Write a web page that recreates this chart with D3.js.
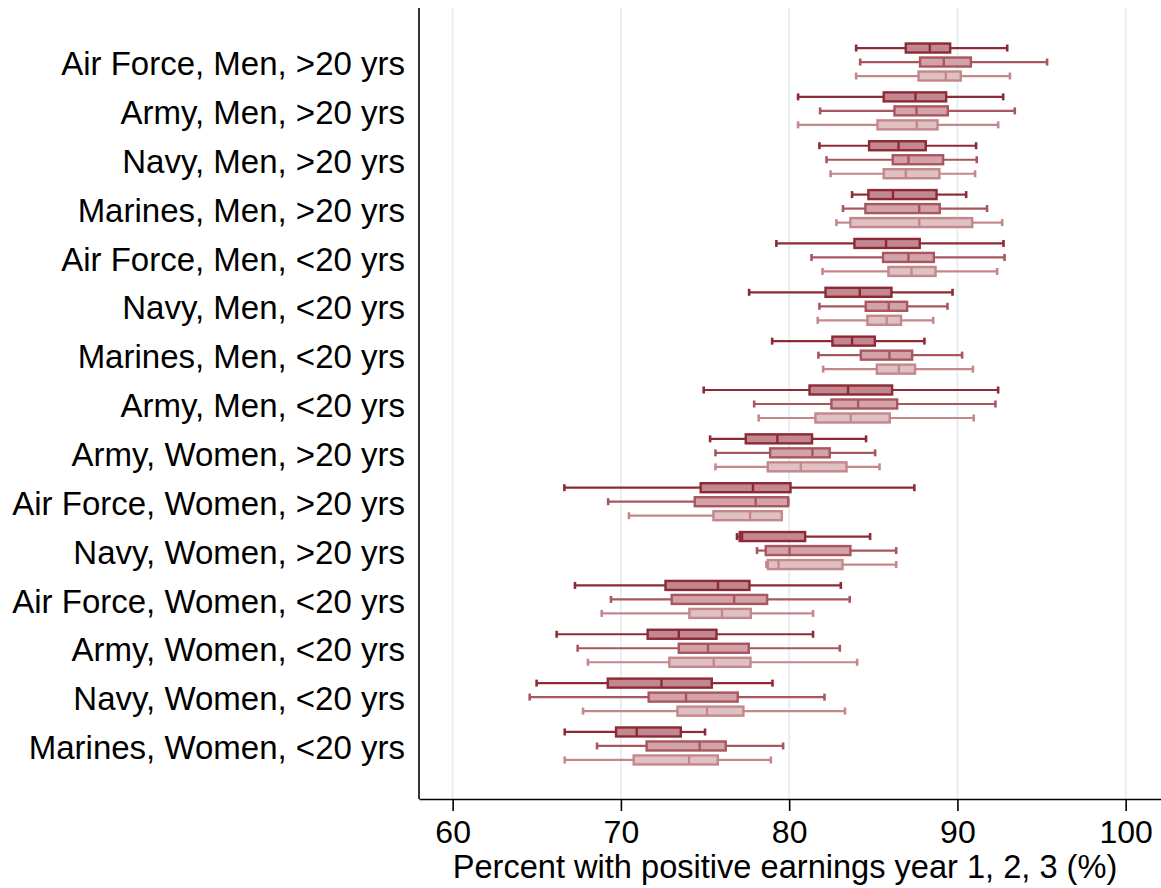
<!DOCTYPE html>
<html>
<head>
<meta charset="utf-8">
<script src="https://cdn.jsdelivr.net/npm/d3@7"></script>
<style>
  body { margin: 0; background: #fff; }
  text { font-family: "Liberation Sans", Arial, Helvetica, sans-serif; fill: #000; }
</style>
</head>
<body>
<div id="chart"></div>
<script>
// Categories (top to bottom)
const categories = [
    "Air Force, Men, >20 yrs",
    "Army, Men, >20 yrs",
    "Navy, Men, >20 yrs",
    "Marines, Men, >20 yrs",
    "Air Force, Men, <20 yrs",
    "Navy, Men, <20 yrs",
    "Marines, Men, <20 yrs",
    "Army, Men, <20 yrs",
    "Army, Women, >20 yrs",
    "Air Force, Women, >20 yrs",
    "Navy, Women, >20 yrs",
    "Air Force, Women, <20 yrs",
    "Army, Women, <20 yrs",
    "Navy, Women, <20 yrs",
    "Marines, Women, <20 yrs"
];

// Box stats per category: [lower whisker, q1, median, q3, upper whisker]
const year1 = [
    [83.98, 86.93, 88.36, 89.57, 92.96],
    [80.53, 85.62, 87.51, 89.33, 92.72],
    [81.80, 84.75, 86.50, 88.12, 91.11],
    [83.74, 84.71, 86.17, 88.76, 90.52],
    [79.24, 83.88, 85.76, 87.76, 92.74],
    [77.62, 82.16, 84.20, 86.08, 89.71],
    [78.99, 82.57, 83.74, 85.09, 88.04],
    [74.92, 81.21, 83.50, 86.12, 92.42],
    [75.30, 77.42, 79.30, 81.36, 84.57],
    [66.64, 74.74, 77.85, 80.08, 87.44],
    [76.90, 77.06, 77.20, 80.95, 84.81],
    [67.27, 72.65, 75.77, 77.64, 83.07],
    [66.18, 71.59, 73.44, 75.68, 81.42],
    [64.99, 69.22, 72.41, 75.40, 79.01],
    [66.66, 69.71, 70.94, 73.56, 75.00]
];

const year2 = [
    [84.22, 87.78, 89.19, 90.80, 95.33],
    [81.84, 86.26, 87.57, 89.43, 93.41],
    [82.22, 86.16, 87.09, 89.15, 91.15],
    [83.20, 84.53, 87.73, 88.95, 91.76],
    [81.33, 85.58, 87.09, 88.60, 92.80],
    [81.80, 84.55, 85.92, 87.01, 89.41],
    [81.74, 84.26, 85.96, 87.31, 90.28],
    [77.92, 82.51, 84.10, 86.42, 92.26],
    [75.62, 78.87, 81.38, 82.41, 85.11],
    [69.24, 74.39, 78.01, 79.94, 79.94],
    [78.09, 78.61, 80.02, 83.64, 86.36],
    [69.41, 73.02, 76.73, 78.69, 83.60],
    [67.43, 73.44, 75.18, 77.60, 83.01],
    [64.58, 71.65, 73.87, 76.94, 82.10],
    [68.58, 71.53, 74.68, 76.23, 79.64]
];

const year3 = [
    [83.98, 87.69, 89.31, 90.20, 93.12],
    [80.53, 85.25, 87.59, 88.82, 92.42],
    [82.46, 85.62, 86.93, 88.93, 91.05],
    [82.81, 83.64, 87.73, 90.88, 92.66],
    [81.98, 85.90, 87.27, 88.70, 92.36],
    [81.70, 84.65, 85.80, 86.65, 88.56],
    [82.02, 85.21, 86.52, 87.48, 90.92],
    [78.19, 81.56, 83.66, 85.98, 90.97],
    [75.62, 78.73, 80.69, 83.41, 85.37],
    [70.48, 75.50, 77.68, 79.56, 79.56],
    [78.65, 78.73, 79.37, 83.17, 86.36],
    [68.86, 74.07, 76.01, 77.72, 81.42],
    [68.04, 72.88, 75.52, 77.70, 84.04],
    [67.75, 73.36, 75.12, 77.28, 83.32],
    [66.66, 70.76, 74.05, 75.76, 78.91]
];

const seriesNames = ["Year 1", "Year 2", "Year 3"];
const xTicks = [60, 70, 80, 90, 100];

const series = [
    { name: seriesNames[0], values: year1, stroke: "#8c2b36", fill: "#c3878f" },
    { name: seriesNames[1], values: year2, stroke: "#a8565f", fill: "#d3a3a9" },
    { name: seriesNames[2], values: year3, stroke: "#c4878c", fill: "#dfc0c3" }
];

const W = 1161, H = 888;
const plot = { left: 419, right: 1161, top: 8, bottom: 799 };

const svg = d3.select("#chart")
    .append("svg")
    .attr("width", W)
    .attr("height", H);

// Scales
const x = d3.scaleLinear().domain([58, 102.1]).range([plot.left, plot.right]);
const y = d3.scaleBand().domain(categories).range([37.6, 770.4]).padding(0);
const offset = d3.scalePoint().domain(seriesNames).range([-14, 14]);

// Gridlines
svg.append("g")
    .selectAll("line")
    .data(xTicks)
    .join("line")
    .attr("x1", d => x(d)).attr("x2", d => x(d))
    .attr("y1", plot.top).attr("y2", plot.bottom)
    .attr("stroke", "#e6eff1")
    .attr("stroke-width", 2);

// Boxes
const boxH = 9;
const capH = 7;

series.forEach(s => {
    const g = svg.append("g");
    const rows = g.selectAll("g")
        .data(s.values.map((v, i) => ({ cat: categories[i], v })))
        .join("g")
        .attr("transform", d => `translate(0,${y(d.cat) + y.bandwidth() / 2 + offset(s.name)})`);

    // whisker lines
    rows.append("line")
        .attr("x1", d => x(d.v[0])).attr("x2", d => x(d.v[1]))
        .attr("stroke", s.stroke).attr("stroke-width", 2.2);
    rows.append("line")
        .attr("x1", d => x(d.v[3])).attr("x2", d => x(d.v[4]))
        .attr("stroke", s.stroke).attr("stroke-width", 2.2);

    // caps
    rows.append("line")
        .attr("x1", d => x(d.v[0])).attr("x2", d => x(d.v[0]))
        .attr("y1", -capH / 2).attr("y2", capH / 2)
        .attr("stroke", s.stroke).attr("stroke-width", 2.6);
    rows.append("line")
        .attr("x1", d => x(d.v[4])).attr("x2", d => x(d.v[4]))
        .attr("y1", -capH / 2).attr("y2", capH / 2)
        .attr("stroke", s.stroke).attr("stroke-width", 2.6);

    // box
    rows.append("rect")
        .attr("x", d => x(d.v[1]))
        .attr("width", d => x(d.v[3]) - x(d.v[1]))
        .attr("y", -boxH / 2)
        .attr("height", boxH)
        .attr("fill", s.fill)
        .attr("stroke", s.stroke)
        .attr("stroke-width", 2.4);

    // median
    rows.append("line")
        .attr("x1", d => x(d.v[2])).attr("x2", d => x(d.v[2]))
        .attr("y1", -boxH / 2).attr("y2", boxH / 2)
        .attr("stroke", s.stroke).attr("stroke-width", 2.4);
});

// Y axis (labels only)
svg.append("line")
    .attr("x1", plot.left).attr("x2", plot.left)
    .attr("y1", plot.top).attr("y2", plot.bottom)
    .attr("stroke", "#000").attr("stroke-width", 1.6);

svg.append("g")
    .selectAll("text")
    .data(categories)
    .join("text")
    .attr("x", 405)
    .attr("y", d => y(d) + y.bandwidth() / 2)
    .attr("dy", "0.4em")
    .attr("text-anchor", "end")
    .style("font-size", "33px")
    .text(d => d);

// X axis
const xAxis = d3.axisBottom(x).tickValues(xTicks).tickSize(12).tickPadding(9).tickSizeOuter(0);

const gx = svg.append("g")
    .attr("transform", `translate(0,${plot.bottom})`)
    .call(xAxis);
gx.select(".domain").attr("stroke", "#000").attr("stroke-width", 1.6);
gx.selectAll(".tick line").attr("stroke", "#000").attr("stroke-width", 1.6);
gx.selectAll(".tick text")
    .style("font-size", "32px")
    .style("font-family", "'Liberation Sans', Arial, sans-serif")
    .attr("fill", "#000");

svg.append("text")
    .attr("x", 785)
    .attr("y", 878)
    .attr("text-anchor", "middle")
    .style("font-size", "32.6px")
    .text("Percent with positive earnings year 1, 2, 3 (%)");
</script>
</body>
</html>
